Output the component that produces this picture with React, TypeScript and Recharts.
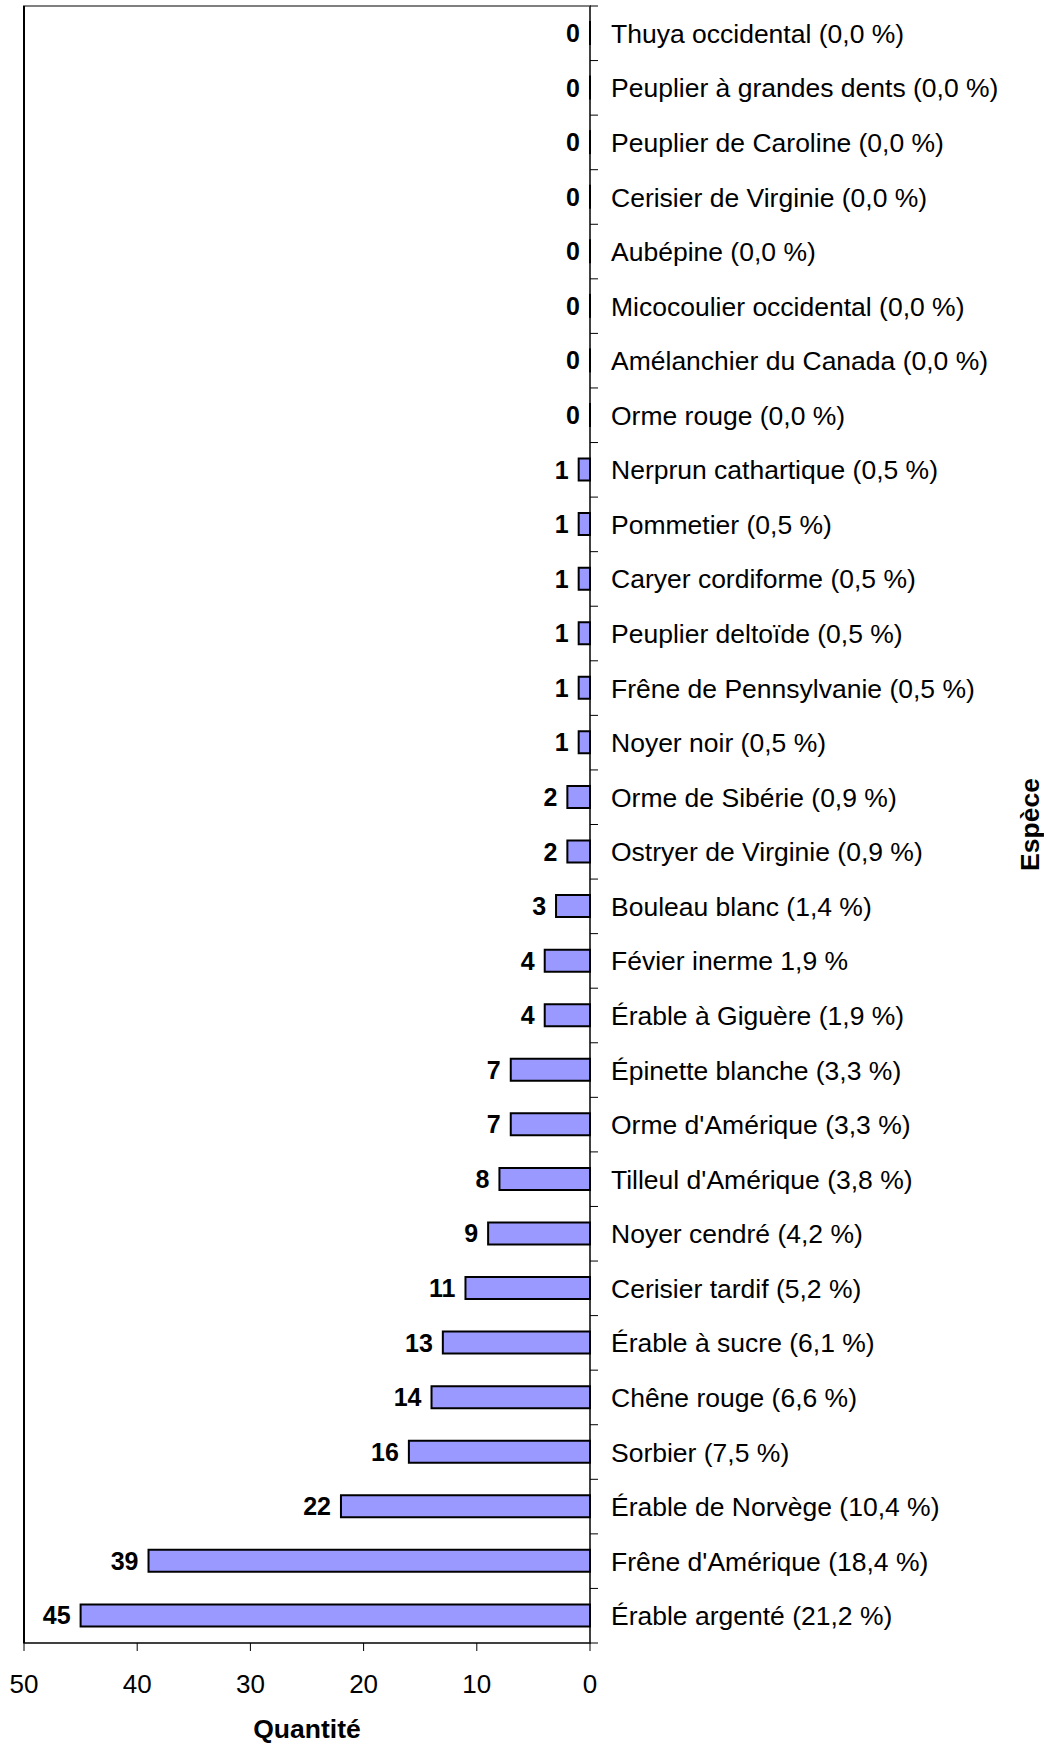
import { BarChart, Bar, XAxis, YAxis, LabelList, ReferenceArea, ReferenceLine } from 'recharts';

const species = [
  'Thuya occidental (0,0 %)',
  'Peuplier à grandes dents (0,0 %)',
  'Peuplier de Caroline (0,0 %)',
  'Cerisier de Virginie (0,0 %)',
  'Aubépine (0,0 %)',
  'Micocoulier occidental (0,0 %)',
  'Amélanchier du Canada (0,0 %)',
  'Orme rouge (0,0 %)',
  'Nerprun cathartique (0,5 %)',
  'Pommetier (0,5 %)',
  'Caryer cordiforme (0,5 %)',
  'Peuplier deltoïde (0,5 %)',
  'Frêne de Pennsylvanie (0,5 %)',
  'Noyer noir (0,5 %)',
  'Orme de Sibérie (0,9 %)',
  'Ostryer de Virginie (0,9 %)',
  'Bouleau blanc (1,4 %)',
  'Févier inerme 1,9 %',
  'Érable à Giguère (1,9 %)',
  'Épinette blanche (3,3 %)',
  "Orme d'Amérique (3,3 %)",
  "Tilleul d'Amérique (3,8 %)",
  'Noyer cendré (4,2 %)',
  'Cerisier tardif (5,2 %)',
  'Érable à sucre (6,1 %)',
  'Chêne rouge (6,6 %)',
  'Sorbier (7,5 %)',
  'Érable de Norvège (10,4 %)',
  "Frêne d'Amérique (18,4 %)",
  'Érable argenté (21,2 %)',
];

const quantities = [0, 0, 0, 0, 0, 0, 0, 0, 1, 1, 1, 1, 1, 1, 2, 2, 3, 4, 4, 7, 7, 8, 9, 11, 13, 14, 16, 22, 39, 45];

const xTicks = [0, 10, 20, 30, 40, 50];

const data = species.map((name, i) => ({ name, qty: quantities[i] }));

const FONT = '"Liberation Sans", Arial, sans-serif';
const W = 1044;
const H = 1745;
const M = { top: 6, right: 0, bottom: 0, left: 24 };
const X_AXIS_H = 102;
const Y_AXIS_W = 454;
const plotH = H - M.top - M.bottom - X_AXIS_H;
const band = plotH / species.length;

// category ticks sit between the rows, labels at row centres
const CategoryTick = ({ x, y, payload, index }: any) => (
  <g>
    <line x1={x - 8} y1={y + band / 2} x2={x} y2={y + band / 2} stroke="#000" strokeWidth={1} />
    {index === 0 && <line x1={x - 8} y1={y - band / 2} x2={x} y2={y - band / 2} stroke="#000" strokeWidth={1} />}
    <text x={x + 13} y={y} dy="0.36em" fill="#000" fontSize={26.5} fontFamily={FONT}>
      {payload.value}
    </text>
  </g>
);

const ValueLabel = ({ x, y, width, height, value }: any) => {
  const left = Math.min(x, x + width);
  return (
    <text x={left - 10} y={y + height / 2} dy="0.36em" textAnchor="end" fontSize={25} fontWeight="bold" fontFamily={FONT} fill="#000">
      {value}
    </text>
  );
};

const SpeciesTitle = ({ viewBox }: any) => (
  <text
    x={viewBox.x + viewBox.width - 14}
    y={viewBox.y + viewBox.height / 2}
    transform={`rotate(-90, ${viewBox.x + viewBox.width - 14}, ${viewBox.y + viewBox.height / 2})`}
    textAnchor="middle"
    dominantBaseline="central"
    fontSize={26.5}
    fontWeight="bold"
    fontFamily={FONT}
    fill="#000"
  >
    Espèce
  </text>
);

export default function App() {
  return (
    <div style={{ position: 'absolute', left: 0, top: 0, background: '#fff' }}>
      <BarChart width={W} height={H} data={data} layout="vertical" margin={M} barSize={22}>
        <ReferenceArea x1={0} x2={50} fill="none" stroke="#808080" strokeWidth={2} ifOverflow="visible" />
        <ReferenceLine x={50} stroke="#000" strokeWidth={2} />
        <XAxis
          type="number"
          domain={[0, 50]}
          ticks={xTicks}
          reversed
          height={X_AXIS_H}
          stroke="#000"
          tickSize={8}
          tickMargin={24}
          tick={{ fill: '#000', fontSize: 26, fontFamily: FONT }}
          label={{ value: 'Quantité', position: 'insideBottom', offset: 7, fill: '#000', fontSize: 26.5, fontWeight: 'bold', fontFamily: FONT }}
        />
        <YAxis
          type="category"
          dataKey="name"
          orientation="right"
          width={Y_AXIS_W}
          stroke="#000"
          tickLine={false}
          tickSize={8}
          tickMargin={0}
          tick={<CategoryTick />}
          interval={0}
          label={<SpeciesTitle />}
        />
        <Bar dataKey="qty" fill="#9999FF" stroke="#000" strokeWidth={2} minPointSize={0.01} isAnimationActive={false}>
          <LabelList dataKey="qty" content={<ValueLabel />} />
        </Bar>
      </BarChart>
    </div>
  );
}
